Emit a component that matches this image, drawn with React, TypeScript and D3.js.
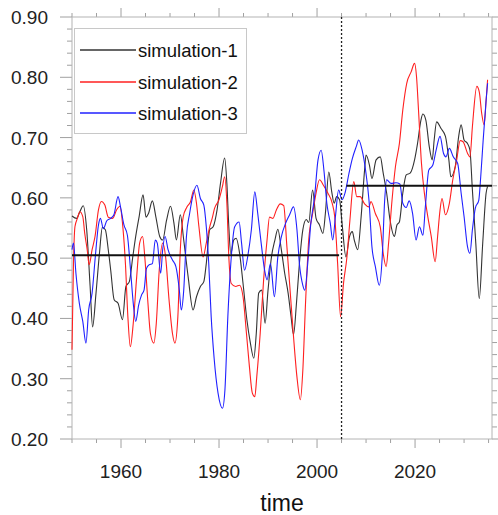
import React, { useEffect, useRef } from 'react';
import * as d3 from 'd3';

// simulation-1 (black): key points
const sim1Years = [1950.0, 1950.95, 1951.6, 1952.3, 1953.0, 1953.7, 1954.2, 1954.9, 1955.6, 1956.2, 1956.8, 1957.4, 1957.9, 1958.6, 1959.4, 1960.3, 1961.0, 1961.7, 1962.4, 1963.0, 1963.7, 1964.5, 1965.1, 1965.6, 1966.4, 1967.1, 1967.9, 1968.5, 1969.3, 1970.1, 1970.8, 1971.3, 1972.1, 1972.8, 1973.7, 1974.7, 1975.4, 1976.2, 1976.9, 1977.4, 1978.1, 1978.8, 1979.6, 1980.3, 1981.15, 1981.6, 1982.0, 1982.4, 1983.0, 1983.5, 1984.2, 1984.9, 1985.7, 1986.4, 1987.1, 1987.6, 1988.1, 1988.7, 1989.4, 1990.0, 1990.7, 1991.4, 1992.0, 1992.7, 1993.4, 1994.1, 1994.7, 1995.2, 1995.8, 1996.4, 1997.1, 1997.8, 1998.3, 1999.1, 1999.8, 2000.5, 2001.2, 2001.7, 2002.4, 2003.0, 2003.5, 2004.0, 2004.6, 2005.1, 2005.9, 2006.6, 2007.2, 2007.6, 2008.3, 2009.0, 2009.7, 2010.0, 2010.7, 2011.2, 2012.05, 2012.9, 2013.5, 2014.2, 2014.9, 2015.8, 2016.3, 2016.8, 2017.5, 2018.2, 2019.0, 2019.9, 2020.5, 2021.2, 2021.6, 2022.2, 2022.9, 2023.5, 2023.9, 2024.4, 2025.3, 2026.2, 2026.9, 2027.3, 2028.2, 2028.9, 2029.4, 2030.0, 2030.7, 2031.2, 2031.7, 2032.4, 2033.1, 2033.8, 2034.5, 2034.8];
const sim1Values = [0.570, 0.566, 0.577, 0.587, 0.547, 0.453, 0.386, 0.442, 0.508, 0.551, 0.547, 0.514, 0.480, 0.431, 0.425, 0.398, 0.453, 0.461, 0.502, 0.536, 0.569, 0.605, 0.568, 0.574, 0.595, 0.569, 0.536, 0.530, 0.563, 0.586, 0.558, 0.530, 0.572, 0.530, 0.469, 0.414, 0.436, 0.453, 0.461, 0.491, 0.547, 0.552, 0.580, 0.624, 0.666, 0.624, 0.552, 0.507, 0.530, 0.533, 0.508, 0.458, 0.397, 0.359, 0.334, 0.375, 0.442, 0.447, 0.392, 0.447, 0.502, 0.530, 0.548, 0.515, 0.475, 0.442, 0.403, 0.373, 0.425, 0.491, 0.547, 0.564, 0.559, 0.613, 0.566, 0.555, 0.541, 0.574, 0.643, 0.610, 0.591, 0.602, 0.597, 0.558, 0.502, 0.535, 0.544, 0.530, 0.514, 0.569, 0.646, 0.671, 0.654, 0.632, 0.663, 0.668, 0.641, 0.608, 0.563, 0.536, 0.555, 0.560, 0.608, 0.638, 0.641, 0.663, 0.690, 0.729, 0.739, 0.729, 0.685, 0.663, 0.696, 0.726, 0.715, 0.702, 0.663, 0.635, 0.652, 0.702, 0.721, 0.696, 0.690, 0.679, 0.613, 0.524, 0.433, 0.524, 0.608, 0.619];

// simulation-2 (red)
const sim2Years = [1950.0, 1950.3, 1950.6, 1951.1, 1951.6, 1952.2, 1952.6, 1953.1, 1953.5, 1954.1, 1954.7, 1955.4, 1956.0, 1956.7, 1957.4, 1958.3, 1959.1, 1959.8, 1960.3, 1960.9, 1961.4, 1961.9, 1962.5, 1963.2, 1963.8, 1964.4, 1964.9, 1965.5, 1966.0, 1966.7, 1967.2, 1967.8, 1968.5, 1969.1, 1969.8, 1970.5, 1971.0, 1971.6, 1972.1, 1972.7, 1973.4, 1974.2, 1974.85, 1975.4, 1975.9, 1976.75, 1977.4, 1978.1, 1978.6, 1979.1, 1980.0, 1980.7, 1981.15, 1981.6, 1982.0, 1982.5, 1983.4, 1984.2, 1984.9, 1985.6, 1986.2, 1986.8, 1987.3, 1987.7, 1988.4, 1989.1, 1989.8, 1990.3, 1991.0, 1991.7, 1992.5, 1993.2, 1993.85, 1994.5, 1995.2, 1995.9, 1996.6, 1997.1, 1997.65, 1998.3, 1999.1, 1999.8, 2000.5, 2001.3, 2002.2, 2003.1, 2003.6, 2004.2, 2004.8, 2005.4, 2006.1, 2006.7, 2007.5, 2008.1, 2008.8, 2009.7, 2010.6, 2011.0, 2011.9, 2012.9, 2013.5, 2014.1, 2014.6, 2015.3, 2016.0, 2016.8, 2017.5, 2018.3, 2019.2, 2019.9, 2020.3, 2020.7, 2021.3, 2021.9, 2022.6, 2023.3, 2024.1, 2024.6, 2025.1, 2025.5, 2026.2, 2027.0, 2027.7, 2028.5, 2029.2, 2029.8, 2030.7, 2031.2, 2031.7, 2032.6, 2033.1, 2033.6, 2034.1, 2034.5, 2034.8];
const sim2Values = [0.348, 0.491, 0.552, 0.566, 0.577, 0.569, 0.541, 0.514, 0.489, 0.514, 0.536, 0.580, 0.594, 0.588, 0.568, 0.566, 0.580, 0.586, 0.558, 0.491, 0.403, 0.353, 0.392, 0.469, 0.525, 0.536, 0.497, 0.425, 0.375, 0.359, 0.392, 0.480, 0.525, 0.502, 0.431, 0.375, 0.359, 0.403, 0.514, 0.569, 0.584, 0.594, 0.613, 0.591, 0.552, 0.502, 0.525, 0.552, 0.566, 0.583, 0.597, 0.619, 0.635, 0.591, 0.502, 0.458, 0.453, 0.455, 0.436, 0.375, 0.320, 0.276, 0.270, 0.303, 0.375, 0.464, 0.530, 0.568, 0.566, 0.580, 0.590, 0.587, 0.519, 0.447, 0.370, 0.303, 0.265, 0.314, 0.425, 0.530, 0.574, 0.608, 0.630, 0.621, 0.608, 0.591, 0.569, 0.491, 0.403, 0.458, 0.502, 0.562, 0.627, 0.602, 0.602, 0.590, 0.585, 0.594, 0.574, 0.552, 0.508, 0.486, 0.525, 0.596, 0.652, 0.690, 0.746, 0.790, 0.809, 0.823, 0.801, 0.746, 0.658, 0.608, 0.569, 0.536, 0.494, 0.536, 0.580, 0.599, 0.572, 0.591, 0.630, 0.663, 0.695, 0.693, 0.674, 0.668, 0.718, 0.785, 0.776, 0.740, 0.721, 0.762, 0.796];

// simulation-3 (blue)
const sim3Years = [1950.0, 1950.3, 1950.8, 1951.5, 1952.2, 1952.85, 1953.4, 1954.1, 1954.75, 1955.4, 1955.8, 1956.4, 1957.1, 1957.9, 1958.55, 1959.4, 1959.9, 1960.6, 1961.3, 1961.95, 1962.5, 1963.0, 1963.6, 1964.2, 1964.7, 1965.2, 1965.75, 1966.4, 1967.0, 1967.4, 1968.1, 1968.5, 1969.0, 1969.6, 1970.5, 1971.2, 1971.9, 1972.3, 1972.8, 1973.35, 1974.0, 1974.7, 1975.5, 1976.2, 1976.9, 1977.4, 1977.9, 1978.4, 1979.0, 1979.8, 1980.7, 1981.2, 1981.8, 1982.5, 1983.2, 1984.1, 1984.6, 1985.2, 1985.9, 1986.6, 1987.3, 1987.9, 1988.6, 1989.3, 1989.8, 1990.5, 1991.3, 1992.0, 1992.7, 1993.6, 1994.4, 1995.2, 1995.9, 1996.4, 1997.1, 1997.5, 1998.1, 1998.7, 1999.5, 2000.2, 2000.85, 2001.4, 2002.0, 2002.7, 2003.2, 2003.75, 2004.4, 2005.1, 2005.7, 2006.5, 2007.2, 2008.0, 2008.5, 2009.2, 2009.9, 2010.6, 2011.2, 2011.9, 2012.7, 2013.3, 2013.8, 2014.2, 2015.1, 2016.1, 2016.9, 2017.5, 2018.2, 2018.8, 2019.5, 2020.2, 2020.9, 2021.6, 2022.1, 2022.8, 2023.6, 2024.3, 2025.1, 2025.8, 2026.3, 2027.0, 2027.8, 2028.7, 2029.4, 2030.0, 2030.7, 2031.2, 2031.7, 2032.3, 2033.0, 2033.4, 2033.9, 2034.5, 2034.8];
const sim3Values = [0.514, 0.525, 0.475, 0.425, 0.395, 0.359, 0.414, 0.442, 0.502, 0.555, 0.566, 0.549, 0.562, 0.566, 0.572, 0.602, 0.585, 0.555, 0.538, 0.480, 0.425, 0.395, 0.422, 0.439, 0.447, 0.483, 0.489, 0.491, 0.530, 0.525, 0.475, 0.514, 0.536, 0.514, 0.497, 0.486, 0.447, 0.414, 0.447, 0.536, 0.574, 0.605, 0.621, 0.599, 0.588, 0.552, 0.491, 0.403, 0.334, 0.276, 0.251, 0.281, 0.403, 0.502, 0.552, 0.560, 0.525, 0.480, 0.505, 0.547, 0.610, 0.574, 0.525, 0.480, 0.464, 0.491, 0.436, 0.502, 0.535, 0.558, 0.572, 0.585, 0.547, 0.491, 0.455, 0.447, 0.491, 0.555, 0.602, 0.663, 0.679, 0.646, 0.591, 0.558, 0.530, 0.569, 0.613, 0.597, 0.608, 0.640, 0.665, 0.685, 0.696, 0.679, 0.646, 0.596, 0.519, 0.486, 0.455, 0.502, 0.596, 0.630, 0.624, 0.625, 0.623, 0.591, 0.584, 0.595, 0.574, 0.530, 0.552, 0.538, 0.585, 0.646, 0.654, 0.679, 0.702, 0.674, 0.668, 0.682, 0.668, 0.657, 0.608, 0.569, 0.519, 0.508, 0.547, 0.583, 0.596, 0.635, 0.696, 0.762, 0.790];

const seriesNames = ['simulation-1', 'simulation-2', 'simulation-3'];
const seriesColors = ['#333333', '#ff2020', '#2020ff'];

// period means (horizontal black lines)
const meanPeriods = [
  { from: 1950, to: 2004.5, value: 0.505 },
  { from: 2006, to: 2035.7, value: 0.62 },
];
const splitYear = 2005;

const xTicks = [1960, 1980, 2000, 2020];
const yTicks = [0.2, 0.3, 0.4, 0.5, 0.6, 0.7, 0.8, 0.9];

const W = 498;
const H = 515;
const FONT = '"Liberation Sans", Arial, Helvetica, sans-serif';

const App: React.FC = () => {
  const svgRef = useRef<SVGSVGElement | null>(null);

  useEffect(() => {
    const margin = { top: 17, right: 6, bottom: 76, left: 72 };
    const svg = d3.select(svgRef.current);
    svg.selectAll('*').remove();

    const x = d3.scaleLinear().domain([1950, 2035.7]).range([margin.left, W - margin.right]);
    const y = d3.scaleLinear().domain([0.2, 0.9]).range([H - margin.bottom, margin.top]);
    const x0 = margin.left, x1 = W - margin.right, y0 = H - margin.bottom, y1 = margin.top;

    const minorX = d3.range(1950, 2036, 5).filter(v => !xTicks.includes(v));
    const minorY = d3.range(0.2, 0.9001, 0.02).filter(v => Math.abs(Math.round(v * 10) - v * 10) > 0.01);

    const tickColor = '#a0a0a0';
    const g = svg.append('g');

    // ticks point outward on all four sides
    const drawXTicks = (vals: number[], len: number) => {
      vals.forEach(v => {
        g.append('line').attr('x1', x(v)).attr('x2', x(v)).attr('y1', y0).attr('y2', y0 + len).attr('stroke', tickColor);
        g.append('line').attr('x1', x(v)).attr('x2', x(v)).attr('y1', y1).attr('y2', y1 - len).attr('stroke', tickColor);
      });
    };
    const drawYTicks = (vals: number[], len: number) => {
      vals.forEach(v => {
        g.append('line').attr('y1', y(v)).attr('y2', y(v)).attr('x1', x0).attr('x2', x0 - len).attr('stroke', tickColor);
        g.append('line').attr('y1', y(v)).attr('y2', y(v)).attr('x1', x1).attr('x2', x1 + len).attr('stroke', tickColor);
      });
    };
    drawXTicks(minorX, 4);
    drawXTicks(xTicks, 9);
    drawYTicks(minorY, 5);
    drawYTicks(yTicks, 12);

    // frame
    g.append('rect')
      .attr('x', x0).attr('y', y1)
      .attr('width', x1 - x0).attr('height', y0 - y1)
      .attr('fill', 'none').attr('stroke', '#b4b4b4');

    // tick labels
    g.append('g').selectAll('text').data(xTicks).join('text')
      .attr('x', d => x(d)).attr('y', y0 + 39)
      .attr('text-anchor', 'middle')
      .attr('font-family', FONT).attr('font-size', 19).attr('fill', '#222')
      .text(d => String(d));
    g.append('g').selectAll('text').data(yTicks).join('text')
      .attr('x', 48).attr('y', d => y(d) + 7)
      .attr('text-anchor', 'end')
      .attr('font-family', FONT).attr('font-size', 19).attr('fill', '#222')
      .text(d => d3.format('.2f')(d));

    g.append('text')
      .attr('x', (x0 + x1) / 2).attr('y', 511)
      .attr('text-anchor', 'middle')
      .attr('font-family', FONT).attr('font-size', 23).attr('fill', '#111')
      .text('time');

    // series
    const line = d3.line<[number, number]>()
      .x(d => x(d[0]))
      .y(d => y(d[1]))
      .curve(d3.curveMonotoneX);
    const series: [number[], number[]][] = [
      [sim1Years, sim1Values],
      [sim2Years, sim2Values],
      [sim3Years, sim3Values],
    ];
    series.forEach(([yrs, vals], i) => {
      const pts = yrs.map((yr, k) => [yr, vals[k]] as [number, number]);
      g.append('path')
        .attr('d', line(pts))
        .attr('fill', 'none')
        .style('stroke', seriesColors[i])
        .attr('stroke-width', 1.1)
        .attr('stroke-linejoin', 'round');
    });

    // period means
    meanPeriods.forEach(p => {
      g.append('line')
        .attr('x1', x(p.from)).attr('x2', x(p.to))
        .attr('y1', y(p.value)).attr('y2', y(p.value))
        .attr('stroke', '#111').attr('stroke-width', 2);
    });

    // split line
    g.append('line')
      .attr('x1', x(splitYear)).attr('x2', x(splitYear))
      .attr('y1', y1).attr('y2', y0)
      .attr('stroke', '#222').attr('stroke-width', 1.3)
      .attr('stroke-dasharray', '2,2');

    // legend
    const lg = g.append('g');
    lg.append('rect')
      .attr('x', 74.5).attr('y', 28.5).attr('width', 172).attr('height', 105)
      .attr('fill', 'white').attr('stroke', '#c8c8c8');
    const rows = [50, 82, 113];
    seriesNames.forEach((name, i) => {
      const cy = rows[i];
      lg.append('line')
        .attr('x1', 80).attr('x2', 136).attr('y1', cy).attr('y2', cy)
        .style('stroke', seriesColors[i]).attr('stroke-width', 1.3);
      lg.append('text')
        .attr('x', 138).attr('y', cy + 6.5)
        .attr('font-family', FONT).attr('font-size', 18.5).attr('fill', '#111')
        .text(name);
    });
  }, []);

  return (
    <svg
      ref={svgRef}
      width={W}
      height={H}
      style={{ position: 'absolute', left: 0, top: 0, background: 'white' }}
    />
  );
};

export default App;
